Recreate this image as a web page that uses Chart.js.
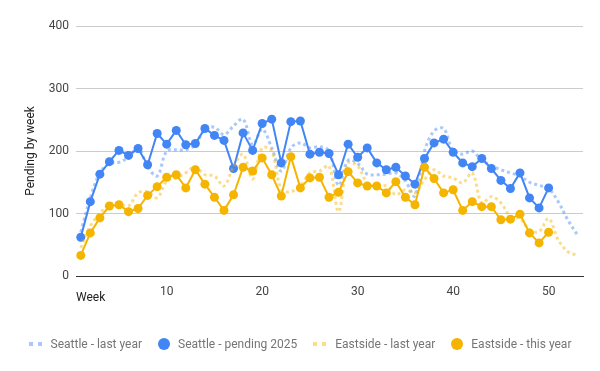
<!DOCTYPE html>
<html>
<head>
<meta charset="utf-8">
<script src="https://cdn.jsdelivr.net/npm/chart.js@4"></script>
<style>
    html, body { margin: 0; padding: 0; background: #fff; }
    #wrap { position: relative; width: 600px; height: 371px; }
    #legend {
        position: absolute; left: 0; top: 337px; width: 600px;
        display: flex; justify-content: center; align-items: center;
        font-family: Roboto, sans-serif; font-size: 12px; color: #757575;
    }
    .item { display: flex; align-items: center; margin: 0 8px; }
    .dots { display: inline-block; width: 13px; height: 4px; margin-right: 9px; }
    .dot { display: inline-block; width: 12px; height: 12px; border-radius: 50%; margin-right: 8px; }
</style>
</head>
<body>
<div id="wrap">
    <canvas id="chart" width="600" height="371"></canvas>
    <div id="legend"></div>
</div>
<script>
const weeks = [1, 2, 3, 4, 5, 6, 7, 8, 9, 10, 11, 12, 13, 14, 15, 16, 17, 18, 19, 20,
    21, 22, 23, 24, 25, 26, 27, 28, 29, 30, 31, 32, 33, 34, 35, 36, 37, 38, 39, 40,
    41, 42, 43, 44, 45, 46, 47, 48, 49, 50, 51, 52, 53];

const seattleLastYear = [70, 125, 165, 180, 182, 190, 205, 175, 160, 200,
    202, 202, 210, 235, 238, 226, 240, 251, 210, 235,
    205, 168, 205, 213, 205, 207, 200, 145, 185, 180,
    163, 162, 163, 165, 152, 128, 200, 232, 236, 200,
    195, 200, 185, 177, 170, 165, 160, 150, 145, 140,
    119, 90, 66];

const seattlePending2025 = [62, 119, 163, 183, 201, 193, 204, 178, 228, 211,
    233, 210, 212, 236, 225, 217, 172, 229, 201, 244,
    251, 181, 247, 248, 195, 198, 196, 162, 211, 190,
    205, 181, 170, 174, 160, 147, 188, 213, 219, 198,
    181, 175, 188, 172, 153, 140, 165, 125, 109, 141];

const eastsideLastYear = [45, 80, 100, 115, 115, 112, 133, 135, 125, 152,
    157, 165, 175, 162, 160, 144, 175, 195, 155, 205,
    200, 138, 135, 144, 165, 168, 176, 103, 181, 176,
    149, 144, 144, 130, 138, 133, 154, 170, 160, 157,
    149, 165, 117, 127, 117, 95, 92, 74, 71, 92,
    58, 39, 33];

const eastsideThisYear = [33, 69, 93, 112, 114, 103, 108, 129, 143, 158,
    162, 141, 170, 147, 126, 105, 130, 174, 168, 189,
    162, 128, 191, 141, 157, 158, 126, 134, 167, 149,
    144, 144, 133, 151, 126, 114, 174, 156, 133, 138,
    105, 119, 111, 111, 90, 91, 99, 69, 53, 70];

const yTicks = [0, 100, 200, 300, 400];
const xTicks = [10, 20, 30, 40, 50];

const seriesNames = ['Seattle - last year', 'Seattle - pending 2025', 'Eastside - last year', 'Eastside - this year'];

const BLUE = '#4285F4';
const YELLOW = '#F4B400';
const BLUE_LIGHT = 'rgba(66, 133, 244, 0.45)';
const YELLOW_LIGHT = 'rgba(244, 180, 0, 0.45)';

function toPoints(values) {
    return values.map((v, i) => ({ x: weeks[i], y: v }));
}

function dottedSet(label, values, color, order) {
    return {
        label: label,
        data: toPoints(values),
        borderColor: color,
        borderWidth: 3,
        borderDash: [3, 3],
        pointRadius: 0,
        tension: 0.35,
        fill: false,
        order: order
    };
}

function solidSet(label, values, color, order) {
    return {
        label: label,
        data: toPoints(values),
        borderColor: color,
        backgroundColor: color,
        borderWidth: 2,
        pointRadius: 4.5,
        pointBorderWidth: 0,
        tension: 0,
        fill: false,
        order: order
    };
}

const ctx = document.getElementById('chart').getContext('2d');

new Chart(ctx, {
    type: 'line',
    data: {
        datasets: [
            dottedSet(seriesNames[0], seattleLastYear, BLUE_LIGHT, 4),
            solidSet(seriesNames[1], seattlePending2025, BLUE, 3),
            dottedSet(seriesNames[2], eastsideLastYear, YELLOW_LIGHT, 2),
            solidSet(seriesNames[3], eastsideThisYear, YELLOW, 1)
        ]
    },
    options: {
        responsive: false,
        animation: false,
        layout: {
            padding: { left: 0, right: 17, top: 26, bottom: 55 }
        },
        scales: {
            x: {
                type: 'linear',
                min: 0.5,
                max: 53.6,
                afterBuildTicks: scale => {
                    scale.ticks = xTicks.map(v => ({ value: v }));
                },
                afterFit: scale => { scale.height = 40; },
                grid: { display: false, drawTicks: false },
                border: { display: true, color: '#333', width: 1 },
                ticks: {
                    padding: 9,
                    color: '#444',
                    font: { family: 'Roboto', size: 12 }
                },
                title: {
                    display: true,
                    text: 'Week',
                    align: 'start',
                    color: '#222',
                    padding: { top: 0, bottom: 11 },
                    font: { family: 'Roboto', size: 12 }
                }
            },
            y: {
                min: 0,
                max: 400,
                afterBuildTicks: scale => {
                    scale.ticks = yTicks.map(v => ({ value: v }));
                },
                afterFit: scale => { scale.width = 76; },
                grid: {
                    color: '#ccc',
                    drawTicks: false
                },
                border: { display: false },
                ticks: {
                    padding: 7,
                    color: '#444',
                    font: { family: 'Roboto', size: 12 }
                },
                title: {
                    display: true,
                    text: 'Pending by week',
                    color: '#222',
                    padding: { top: 24, bottom: 4 },
                    font: { family: 'Roboto', size: 12 }
                }
            }
        },
        plugins: {
            legend: { display: false },
            tooltip: { enabled: false }
        }
    }
});

// Leyenda en HTML, igual que la original
const legendColors = [BLUE_LIGHT, BLUE, YELLOW_LIGHT, YELLOW];
const legendDotted = [true, false, true, false];
const legend = document.getElementById('legend');
seriesNames.forEach((name, i) => {
    const item = document.createElement('span');
    item.className = 'item';
    const mark = document.createElement('span');
    if (legendDotted[i]) {
        mark.className = 'dots';
        mark.style.background = `linear-gradient(to right, ${legendColors[i]} 0 4px, transparent 4px 9px, ${legendColors[i]} 9px 13px)`;
    } else {
        mark.className = 'dot';
        mark.style.background = legendColors[i];
    }
    const text = document.createElement('span');
    text.textContent = name;
    item.appendChild(mark);
    item.appendChild(text);
    legend.appendChild(item);
});
</script>
</body>
</html>
